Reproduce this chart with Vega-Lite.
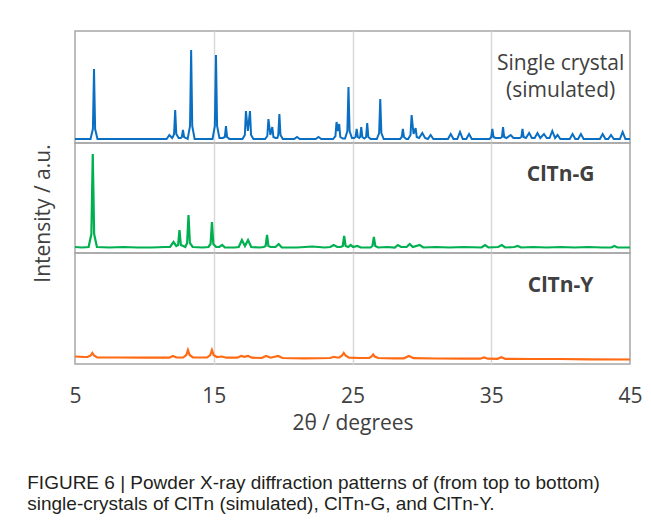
{
  "$schema": "https://vega.github.io/schema/vega-lite/v6.json",
  "padding": {"left": 27, "top": 30, "right": 19, "bottom": 5},
  "background": "white",
  "config": {
    "font": "Open Sans",
    "view": {"stroke": "#a6a6a6", "strokeWidth": 1.5},
    "axis": {"gridColor": "#d9d9d9", "gridWidth": 1.5, "labelFont": "Open Sans", "titleFont": "Open Sans"}
  },
  "title": {
    "text": ["FIGURE 6 | Powder X-ray diffraction patterns of (from top to bottom)", "single-crystals of ClTn (simulated), ClTn-G, and ClTn-Y."],
    "orient": "bottom", "anchor": "start", "frame": "bounds",
    "font": "Liberation Sans", "fontSize": 19, "fontWeight": "normal", "color": "#231f20",
    "lineHeight": 21, "offset": 40, "dx": -4
  },
  "datasets": {
    "blue": [
      {"t":5,"i":0},
      {"t":6.12,"i":0},{"t":6.29,"i":10},{"t":6.37,"i":70},{"t":6.45,"i":10},{"t":6.62,"i":0},
      {"t":11,"i":0},
      {"t":11.6,"i":0},{"t":11.8,"i":4},{"t":12.0,"i":1},
      {"t":12.08,"i":3},{"t":12.14,"i":5},{"t":12.22,"i":29},{"t":12.3,"i":5},{"t":12.47,"i":1},
      {"t":12.62,"i":1},{"t":12.7,"i":2},{"t":12.78,"i":9},{"t":12.86,"i":2},{"t":13.0,"i":1},
      {"t":13.12,"i":0},{"t":13.29,"i":13},{"t":13.37,"i":89},{"t":13.45,"i":13},{"t":13.62,"i":0},
      {"t":14.91,"i":0},{"t":15.08,"i":13},{"t":15.16,"i":84},{"t":15.24,"i":13},{"t":15.41,"i":1},
      {"t":15.65,"i":1},{"t":15.8,"i":2},{"t":15.88,"i":13},{"t":15.96,"i":2},{"t":16.13,"i":0},
      {"t":17.07,"i":0},{"t":17.24,"i":4},{"t":17.32,"i":28},{"t":17.46,"i":8},{"t":17.61,"i":28},{"t":17.69,"i":4},{"t":17.86,"i":0},
      {"t":18.7,"i":0},{"t":18.86,"i":3},{"t":18.94,"i":20},{"t":19.08,"i":4},{"t":19.22,"i":12},{"t":19.3,"i":2},{"t":19.45,"i":1},
      {"t":19.58,"i":1},{"t":19.65,"i":4},{"t":19.73,"i":25},{"t":19.81,"i":4},{"t":19.98,"i":0},
      {"t":20.8,"i":0},{"t":21.0,"i":2},{"t":21.2,"i":0},
      {"t":22.35,"i":0},{"t":22.55,"i":2},{"t":22.75,"i":0},
      {"t":23.6,"i":0},{"t":23.77,"i":3},{"t":23.85,"i":17},{"t":23.95,"i":8},{"t":24.04,"i":15},{"t":24.12,"i":2},{"t":24.3,"i":0.5},
      {"t":24.46,"i":0.5},{"t":24.63,"i":8},{"t":24.71,"i":52},{"t":24.79,"i":8},{"t":24.96,"i":1},
      {"t":25.12,"i":1},{"t":25.22,"i":2},{"t":25.3,"i":10},{"t":25.38,"i":2},{"t":25.48,"i":1},
      {"t":25.55,"i":2},{"t":25.63,"i":12},{"t":25.71,"i":2},{"t":25.85,"i":0.5},
      {"t":25.98,"i":2},{"t":26.06,"i":16},{"t":26.14,"i":2},{"t":26.31,"i":0},
      {"t":26.75,"i":0},{"t":26.92,"i":6},{"t":27.0,"i":40},{"t":27.08,"i":6},{"t":27.25,"i":0},
      {"t":28.43,"i":0},{"t":28.55,"i":2},{"t":28.63,"i":10},{"t":28.71,"i":2},{"t":28.88,"i":0},
      {"t":29.01,"i":0},{"t":29.18,"i":4},{"t":29.26,"i":24},{"t":29.4,"i":5},{"t":29.55,"i":11},{"t":29.63,"i":2},{"t":29.8,"i":1},
      {"t":30.03,"i":6},{"t":30.23,"i":1},
      {"t":30.43,"i":0},{"t":30.63,"i":4},{"t":30.83,"i":0},
      {"t":31.88,"i":0},{"t":32.08,"i":5},{"t":32.28,"i":0},
      {"t":32.55,"i":0},{"t":32.75,"i":7},{"t":32.95,"i":0},
      {"t":33.2,"i":0},{"t":33.4,"i":5},{"t":33.6,"i":0},
      {"t":34.88,"i":0},{"t":35.0,"i":2},{"t":35.08,"i":10},{"t":35.16,"i":2},{"t":35.3,"i":1},
      {"t":35.65,"i":1},{"t":35.77,"i":2},{"t":35.85,"i":12},{"t":35.93,"i":2},{"t":36.1,"i":1},
      {"t":36.4,"i":4},{"t":36.6,"i":1},
      {"t":37.05,"i":1},{"t":37.17,"i":2},{"t":37.25,"i":10},{"t":37.33,"i":2},{"t":37.5,"i":1},
      {"t":37.73,"i":6},{"t":37.93,"i":1},
      {"t":38.13,"i":1},{"t":38.33,"i":6},{"t":38.53,"i":1},
      {"t":38.8,"i":5},{"t":39.0,"i":1},
      {"t":39.2,"i":1},{"t":39.4,"i":8},{"t":39.6,"i":1},
      {"t":39.78,"i":4},{"t":39.98,"i":0},
      {"t":40.66,"i":0},{"t":40.86,"i":5},{"t":41.06,"i":0},
      {"t":41.26,"i":0},{"t":41.46,"i":5},{"t":41.66,"i":0},
      {"t":42.83,"i":0},{"t":43.03,"i":5},{"t":43.23,"i":0},
      {"t":43.43,"i":0},{"t":43.63,"i":4},{"t":43.83,"i":0},
      {"t":44.27,"i":0},{"t":44.47,"i":7},{"t":44.67,"i":0},
      {"t":45,"i":0}
    ],
    "green": [
      {"t":5,"i":1},{"t":5.5,"i":0.5},{"t":5.98,"i":1},
      {"t":6.18,"i":14},{"t":6.28,"i":94},{"t":6.38,"i":14},{"t":6.58,"i":1},
      {"t":7.5,"i":0.5},{"t":8.5,"i":1},{"t":9.5,"i":0.5},{"t":10.5,"i":0.5},{"t":11.5,"i":1},
      {"t":11.85,"i":1},{"t":12.1,"i":6},{"t":12.3,"i":2},
      {"t":12.43,"i":3},{"t":12.53,"i":18},{"t":12.63,"i":3},{"t":12.8,"i":2},
      {"t":12.95,"i":1},{"t":13.08,"i":5},{"t":13.18,"i":33},{"t":13.28,"i":5},{"t":13.48,"i":1},
      {"t":14.2,"i":0.5},
      {"t":14.62,"i":1},{"t":14.77,"i":4},{"t":14.87,"i":26},{"t":14.97,"i":4},{"t":15.17,"i":1},
      {"t":15.4,"i":1},{"t":15.61,"i":3},{"t":15.8,"i":0.5},
      {"t":16.5,"i":0.5},
      {"t":16.8,"i":1},{"t":17.03,"i":8},{"t":17.25,"i":2},{"t":17.47,"i":8},{"t":17.7,"i":1},
      {"t":18.3,"i":0.5},
      {"t":18.6,"i":1},{"t":18.74,"i":2},{"t":18.84,"i":13},{"t":18.94,"i":2},{"t":19.1,"i":1},
      {"t":19.45,"i":1},{"t":19.68,"i":4},{"t":19.9,"i":0.5},
      {"t":21,"i":0.5},{"t":22.1,"i":1.5},{"t":23,"i":0.5},
      {"t":23.4,"i":1},{"t":23.65,"i":3},{"t":23.9,"i":1},
      {"t":24.15,"i":1},{"t":24.3,"i":2},{"t":24.4,"i":12},{"t":24.5,"i":2},{"t":24.7,"i":1},
      {"t":24.86,"i":3},{"t":25.05,"i":1},{"t":25.34,"i":2},{"t":25.6,"i":0.5},
      {"t":26.3,"i":0.5},{"t":26.44,"i":2},{"t":26.54,"i":11},{"t":26.64,"i":2},{"t":26.85,"i":0.5},
      {"t":27.5,"i":1},
      {"t":28.05,"i":0.5},{"t":28.27,"i":3},{"t":28.5,"i":1},
      {"t":28.9,"i":1},{"t":29.12,"i":4},{"t":29.35,"i":1},
      {"t":29.84,"i":3},{"t":30.1,"i":0.5},
      {"t":31,"i":1},{"t":32,"i":0.5},{"t":33,"i":1},
      {"t":34.3,"i":0.5},{"t":34.55,"i":3},{"t":34.8,"i":0.5},
      {"t":35.5,"i":1},{"t":35.76,"i":3},{"t":36,"i":0.5},
      {"t":36.65,"i":1},{"t":36.9,"i":2},{"t":37.15,"i":0.5},
      {"t":38,"i":1},{"t":39,"i":0.5},{"t":40,"i":1},{"t":41,"i":0.5},{"t":42,"i":1},{"t":43,"i":0.5},
      {"t":43.65,"i":0.5},{"t":43.87,"i":2},{"t":44.1,"i":0.5},
      {"t":45,"i":0.5}
    ],
    "orange": [
      {"t":5,"i":1.5},{"t":5.7,"i":1},
      {"t":5.9,"i":1},{"t":6.13,"i":2.5},{"t":6.25,"i":5},{"t":6.37,"i":2.5},{"t":6.6,"i":0.5},
      {"t":8,"i":0.5},{"t":10,"i":0.3},{"t":11.5,"i":0.3},
      {"t":11.8,"i":0.3},{"t":12.05,"i":2},{"t":12.3,"i":0.5},
      {"t":12.8,"i":0.5},{"t":13.02,"i":3},{"t":13.14,"i":8},{"t":13.26,"i":3},{"t":13.5,"i":0.5},
      {"t":14.2,"i":0.5},
      {"t":14.52,"i":0.5},{"t":14.75,"i":3},{"t":14.87,"i":8},{"t":14.99,"i":3},{"t":15.22,"i":1},
      {"t":15.59,"i":1.5},{"t":15.9,"i":0.3},
      {"t":16.7,"i":0.3},{"t":16.98,"i":2},{"t":17.2,"i":1.2},{"t":17.47,"i":2},{"t":17.75,"i":0.3},
      {"t":18.45,"i":0},{"t":18.77,"i":2},{"t":19.1,"i":0.3},{"t":19.64,"i":2},{"t":19.95,"i":0},
      {"t":21.5,"i":-0.3},
      {"t":23.4,"i":0},{"t":23.65,"i":1.2},{"t":23.9,"i":0.5},
      {"t":24.05,"i":0.5},{"t":24.25,"i":2.5},{"t":24.37,"i":5},{"t":24.49,"i":2.5},{"t":24.75,"i":0.3},
      {"t":25.5,"i":0},
      {"t":26.2,"i":0},{"t":26.38,"i":1.5},{"t":26.49,"i":3.5},{"t":26.6,"i":1.5},{"t":26.85,"i":0},
      {"t":28,"i":-0.3},
      {"t":28.7,"i":-0.3},{"t":29.07,"i":2},{"t":29.4,"i":-0.2},
      {"t":31,"i":-0.5},{"t":33,"i":-0.7},
      {"t":34.2,"i":-0.7},{"t":34.48,"i":0.5},{"t":34.75,"i":-0.7},
      {"t":35.45,"i":-0.8},{"t":35.73,"i":0.7},{"t":36.0,"i":-0.8},
      {"t":38,"i":-1},{"t":40,"i":-1},{"t":42,"i":-1.3},{"t":45,"i":-1.5}
    ]
  },
  "spacing": 0,
  "bounds": "flush",
  "vconcat": [
    {
      "width": 555, "height": 112,
      "layer": [
        {
          "data": {"name": "blue"},
          "mark": {"type": "line", "color": "#0a6fc2", "strokeWidth": 2, "clip": true},
          "encoding": {
            "x": {"field": "t", "type": "quantitative", "scale": {"domain": [5, 45], "nice": false, "zero": false},
                  "axis": {"values": [15, 25, 35], "labels": false, "ticks": false, "domain": false, "title": null, "grid": true}},
            "y": {"field": "i", "type": "quantitative", "scale": {"domain": [-4, 108], "nice": false, "zero": false}, "axis": null}
          }
        },
        {
          "data": {"values": [{}]},
          "mark": {"type": "text", "align": "center", "baseline": "alphabetic", "font": "Open Sans", "fontSize": 21, "lineHeight": 27, "color": "#404040"},
          "encoding": {
            "x": {"datum": 40, "type": "quantitative"},
            "y": {"datum": 69, "type": "quantitative"},
            "text": {"value": ["Single crystal", "(simulated)"]}
          }
        }
      ]
    },
    {
      "width": 555, "height": 110,
      "layer": [
        {
          "data": {"name": "green"},
          "mark": {"type": "line", "color": "#00b050", "strokeWidth": 2.2, "clip": true},
          "encoding": {
            "x": {"field": "t", "type": "quantitative", "scale": {"domain": [5, 45], "nice": false, "zero": false},
                  "axis": {"values": [15, 25, 35], "labels": false, "ticks": false, "domain": false, "title": null, "grid": true}},
            "y": {"field": "i", "type": "quantitative", "scale": {"domain": [-5, 105], "nice": false, "zero": false},
                  "axis": {"title": "Intensity / a.u.", "labels": false, "ticks": false, "domain": false, "grid": false,
                           "titlePadding": 22, "titleFontSize": 21, "titleFontWeight": "normal", "titleColor": "#404040", "titleY": 70}}
          }
        },
        {
          "data": {"values": [{}]},
          "mark": {"type": "text", "align": "center", "baseline": "alphabetic", "font": "Open Sans", "fontSize": 21, "fontWeight": "bold", "color": "#404040"},
          "encoding": {
            "x": {"datum": 40, "type": "quantitative"},
            "y": {"datum": 67, "type": "quantitative"},
            "text": {"value": "ClTn-G"}
          }
        }
      ]
    },
    {
      "width": 555, "height": 111,
      "layer": [
        {
          "data": {"name": "orange"},
          "mark": {"type": "line", "color": "#ff6a13", "strokeWidth": 2.2, "clip": true},
          "encoding": {
            "x": {"field": "t", "type": "quantitative", "scale": {"domain": [5, 45], "nice": false, "zero": false},
                  "axis": {"values": [5, 15, 25, 35, 45], "ticks": false, "domain": false, "grid": true,
                           "gridColor": {"condition": {"test": "datum.value === 5 || datum.value === 45", "value": "rgba(0,0,0,0)"}, "value": "#d9d9d9"},
                           "labelFontSize": 21, "labelColor": "#404040", "labelPadding": 21, "labelFlush": false,
                           "title": "2θ / degrees", "titleFontSize": 21, "titleFontWeight": "normal", "titleColor": "#404040", "titlePadding": 6}},
            "y": {"field": "i", "type": "quantitative", "scale": {"domain": [-6, 105], "nice": false, "zero": false}, "axis": null}
          }
        },
        {
          "data": {"values": [{}]},
          "mark": {"type": "text", "align": "center", "baseline": "alphabetic", "font": "Open Sans", "fontSize": 21, "fontWeight": "bold", "color": "#404040"},
          "encoding": {
            "x": {"datum": 40, "type": "quantitative"},
            "y": {"datum": 66, "type": "quantitative"},
            "text": {"value": "ClTn-Y"}
          }
        }
      ]
    }
  ]
}
